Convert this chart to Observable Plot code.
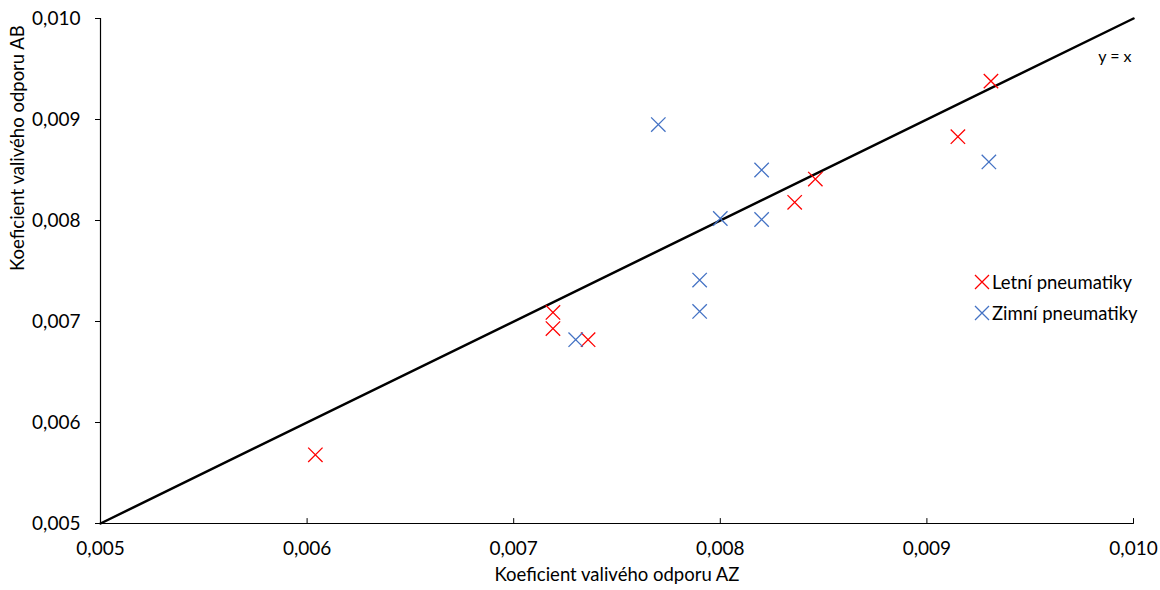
<!DOCTYPE html>
<html><head><meta charset="utf-8">
<script src="https://cdn.jsdelivr.net/npm/d3@7"></script>
<script src="https://cdn.jsdelivr.net/npm/@observablehq/plot@0.6"></script>
<style>
body{margin:0;background:#fff;font-family:Lato,sans-serif}
#wrap{position:relative;width:1160px;height:590px}
#legend{position:absolute;left:974px;top:266px;font-size:18.5px;color:#000;white-space:nowrap}
#legend .row{display:flex;align-items:center;height:31px}
#legend svg{margin-right:2px}
</style></head><body>
<div id="wrap"><div id="chart"></div><div id="legend"></div></div>
<script>
// Letní pneumatiky (summer tyres)
const letniAZ = [0.00604, 0.00719, 0.00719, 0.00736, 0.00836, 0.00846, 0.00915, 0.00931];
const letniAB = [0.00568, 0.00709, 0.00693, 0.00682, 0.00818, 0.00841, 0.00883, 0.00938];
// Zimní pneumatiky (winter tyres)
const zimniAZ = [0.00730, 0.00770, 0.00800, 0.00820, 0.00820, 0.00790, 0.00790, 0.00930];
const zimniAB = [0.00682, 0.00895, 0.00802, 0.00850, 0.00801, 0.00741, 0.00710, 0.00858];
const seriesNames = ["Letní pneumatiky", "Zimní pneumatiky"];
const seriesColors = ["#FF0000", "#4472C4"];
const tickValues = [0.005, 0.006, 0.007, 0.008, 0.009, 0.010];
const identityLine = [0.005, 0.010];
const xTitle = "Koeficient valivého odporu AZ";
const yTitle = "Koeficient valivého odporu AB";
const lineLabel = "y = x";

const fmt = d => d3.format(".3f")(d).replace(".", ",");
const data = [
  ...letniAZ.map((x, i) => ({x, y: letniAB[i], s: seriesNames[0]})),
  ...zimniAZ.map((x, i) => ({x, y: zimniAB[i], s: seriesNames[1]}))
];
const tickUp = {draw(ctx, l) { ctx.moveTo(0, 0); ctx.lineTo(0, -l); }};

const chart = Plot.plot({
  width: 1160, height: 590,
  marginLeft: 100, marginRight: 27, marginTop: 18, marginBottom: 67,
  style: {fontFamily: "Lato, sans-serif", fontSize: "19px", color: "#000", background: "#fff"},
  x: {domain: [0.005, 0.010]},
  y: {domain: [0.005, 0.010]},
  color: {domain: seriesNames, range: seriesColors},
  marks: [
    Plot.axisY(tickValues, {tickFormat: fmt, tickSize: 5, tickPadding: 15, label: null, stroke: "#000", fontSize: 19}),
    Plot.axisX(tickValues, {tickFormat: fmt, tickSize: 0, tickPadding: 18, label: null, fontSize: 19}),
    Plot.vector(tickValues, {x: d => d, y: () => 0.005, length: 5, rotate: 0, anchor: "start", shape: tickUp, stroke: "#000", strokeWidth: 1}),
    Plot.ruleY([0.005], {stroke: "#000", strokeWidth: 1.2}),
    Plot.ruleX([0.005], {stroke: "#000", strokeWidth: 1.2}),
    Plot.line(identityLine, {x: d => d, y: d => d, stroke: "#000", strokeWidth: 2.5}),
    Plot.text([lineLabel], {frameAnchor: "top-right", dx: -2, dy: 32, fontSize: 16, textAnchor: "end", text: d => d}),
    Plot.dot(data, {x: "x", y: "y", stroke: "s", symbol: "times", r: 6.6, strokeWidth: 1.3}),
    Plot.text([xTitle], {frameAnchor: "bottom", dy: 57, text: d => d, fontSize: 18.5}),
    Plot.text([yTitle], {frameAnchor: "left", dx: -82, rotate: -90, text: d => d, fontSize: 18.5})
  ]
});
document.getElementById("chart").appendChild(chart);

const legend = document.getElementById("legend");
seriesNames.forEach((name, i) => {
  const row = document.createElement("div");
  row.className = "row";
  row.innerHTML = `<svg width="16" height="16" viewBox="-8 -8 16 16"><path d="M-7,-7L7,7M-7,7L7,-7" stroke="${seriesColors[i]}" stroke-width="1.3"/></svg><span>${name}</span>`;
  legend.appendChild(row);
});
</script>
</body></html>
